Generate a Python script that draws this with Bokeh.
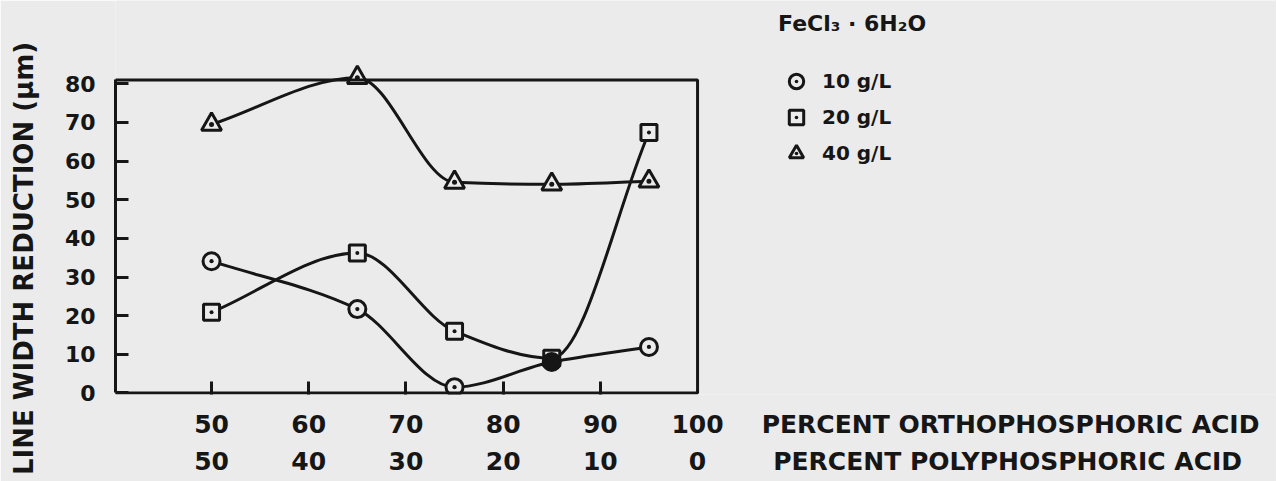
import numpy as np
from bokeh.plotting import figure
from bokeh.models import (Range1d, LinearAxis, FixedTicker, Legend, LegendItem,
                          BoxAnnotation)
from bokeh.embed import file_html
from bokeh.resources import INLINE

# ---------------- data ----------------
ortho_pct = [50, 65, 75, 85, 95]
lw_10gl = [34.1, 21.7, 1.5, 8.0, 11.9]
lw_20gl = [20.9, 36.2, 16.0, 9.0, 67.4]
lw_40gl = [69.5, 81.6, 54.5, 54.0, 54.8]

ortho_ticks = [50, 60, 70, 80, 90, 100]
poly_tick_labels = ["50", "40", "30", "20", "10", "0"]
inner_ticks = [50, 60, 70, 80, 90]
y_ticks = [0, 10, 20, 30, 40, 50, 60, 70, 80]

series_labels = ["10 g/L", "20 g/L", "40 g/L"]
legend_title = "FeCl₃ · 6H₂O"
x_title_ortho = "PERCENT ORTHOPHOSPHORIC ACID"
x_title_poly = "PERCENT POLYPHOSPHORIC ACID"
y_title = "LINE WIDTH REDUCTION  (μm)"

# ---------------- layout / style ----------------
PAPER = "#ebebeb"
INK = "#161616"
FONT = "DejaVu Sans"
W, H = 1276, 481
LEFT = 115
FRAME_W = W - LEFT
FRAME_H = 394
PX_X, PX_Y = 9.72, 3.864          # pixels per data unit

X_MIN, X_BOX_RIGHT = 40.12, 100.0
X_MAX = round(X_MIN + FRAME_W / PX_X, 2)
Y_MIN, Y_BOX_TOP = -0.4, 81.0
Y_MAX = round(Y_MIN + FRAME_H / PX_Y, 2)

# label anchor positions (in axis units) for the titles set beside the axes
ORTHO_TITLE_POS = 132.2
POLY_TITLE_POS = 131.9
Y_TITLE_POS = 36.0


def style_axis(ax, size, standoff, line=True, ticks=True):
    ax.axis_line_width = 3
    ax.axis_line_color = INK if line else None
    ax.major_tick_in = 13 if ticks else 0
    ax.major_tick_out = 0
    ax.major_tick_line_width = 3
    ax.major_tick_line_color = INK if ticks else None
    ax.minor_tick_line_color = None
    ax.major_label_text_font = FONT
    ax.major_label_text_font_style = "bold"
    ax.major_label_text_font_size = size
    ax.major_label_text_color = INK
    ax.major_label_standoff = standoff


p = figure(
    frame_width=FRAME_W, frame_height=FRAME_H,
    min_border_left=LEFT, min_border_right=0,
    min_border_top=0, min_border_bottom=H - FRAME_H,
    x_range=Range1d(X_MIN, X_MAX), y_range=Range1d(Y_MIN, Y_MAX),
    x_axis_type=None, y_axis_type=None,
    output_backend="svg", toolbar_location=None,
    background_fill_color=PAPER, border_fill_color=PAPER,
)
p.outline_line_color = None
p.grid.visible = False

# plot box
p.add_layout(BoxAnnotation(left=X_MIN, right=X_BOX_RIGHT, bottom=0, top=Y_BOX_TOP,
                           fill_alpha=0, line_color=INK, line_width=3, line_alpha=1))

# y axis with tick labels
ya = LinearAxis(ticker=FixedTicker(ticks=y_ticks), bounds=(0, Y_BOX_TOP))
style_axis(ya, "22px", 20)
p.add_layout(ya, "left")
# y title, set as a rotated label of an outer axis
yt = LinearAxis(ticker=FixedTicker(ticks=[Y_TITLE_POS]),
                major_label_overrides={Y_TITLE_POS: y_title},
                major_label_orientation="vertical")
style_axis(yt, "26px", 22, line=False, ticks=False)
p.add_layout(yt, "left")

# inward tick marks on the bottom edge
xt = LinearAxis(ticker=FixedTicker(ticks=inner_ticks))
style_axis(xt, "0px", 0, line=False)
xt.major_label_text_alpha = 0
p.add_layout(xt, "below")

# orthophosphoric scale + title
ortho_overrides = {ORTHO_TITLE_POS: x_title_ortho}
xa = LinearAxis(ticker=FixedTicker(ticks=ortho_ticks + [ORTHO_TITLE_POS]),
                major_label_overrides=ortho_overrides)
style_axis(xa, "25px", 15, line=False, ticks=False)
p.add_layout(xa, "below")

# polyphosphoric scale + title
poly_overrides = {t: s for t, s in zip(ortho_ticks, poly_tick_labels)}
poly_overrides[POLY_TITLE_POS] = x_title_poly
xa2 = LinearAxis(ticker=FixedTicker(ticks=ortho_ticks + [POLY_TITLE_POS]),
                 major_label_overrides=poly_overrides)
style_axis(xa2, "25px", 5, line=False, ticks=False)
p.add_layout(xa2, "below")


def tangents(x, y):
    x = np.asarray(x, float)
    y = np.asarray(y, float)
    h = np.diff(x)
    d = np.diff(y) / h
    m = np.zeros(len(x))
    m[0] = d[0]
    m[-1] = d[-1]
    for k in range(1, len(x) - 1):
        if d[k - 1] * d[k] <= 0:
            m[k] = 0.0
        else:
            w1 = 2 * h[k] + h[k - 1]
            w2 = h[k] + 2 * h[k - 1]
            m[k] = (w1 + w2) / (w1 / d[k - 1] + w2 / d[k])
    return m


def smooth_curve(x, y):
    x = np.asarray(x, float)
    y = np.asarray(y, float)
    m = tangents(x, y)
    h = np.diff(x)
    p.bezier(
        x0=x[:-1], y0=y[:-1], x1=x[1:], y1=y[1:],
        cx0=x[:-1] + h / 3, cy0=y[:-1] + m[:-1] * h / 3,
        cx1=x[1:] - h / 3, cy1=y[1:] - m[1:] * h / 3,
        line_color=INK, line_width=3,
    )


for ys in (lw_10gl, lw_20gl, lw_40gl):
    smooth_curve(ortho_pct, ys)

fills_10 = [PAPER, PAPER, PAPER, INK, PAPER]
r40 = p.scatter(ortho_pct, lw_40gl, marker="triangle_dot", size=20,
                line_color=INK, line_width=3, fill_color=PAPER)
r20 = p.scatter(ortho_pct, lw_20gl, marker="square_dot", size=16,
                line_color=INK, line_width=3, fill_color=PAPER)
r10 = p.scatter(ortho_pct, lw_10gl, marker="circle_dot", size=17,
                line_color=INK, line_width=3, fill_color=fills_10)

# legend: location is its bottom-left corner, in pixels from the frame's bottom-left
legend = Legend(
    items=[LegendItem(label=lab, renderers=[r], index=0)
           for lab, r in zip(series_labels, [r10, r20, r40])],
    location=(663, 223),
    title=legend_title,
    title_text_font=FONT, title_text_font_style="bold", title_text_font_size="22px",
    title_text_color=INK, title_standoff=27,
    label_text_font=FONT, label_text_font_style="bold", label_text_font_size="20px",
    label_text_color=INK, label_standoff=8, label_height=20,
    glyph_width=36, glyph_height=36, spacing=0,
    padding=0, margin=0, border_line_color=None, background_fill_alpha=0,
)
p.add_layout(legend)

open("out.html", "w").write(file_html(p, INLINE))
